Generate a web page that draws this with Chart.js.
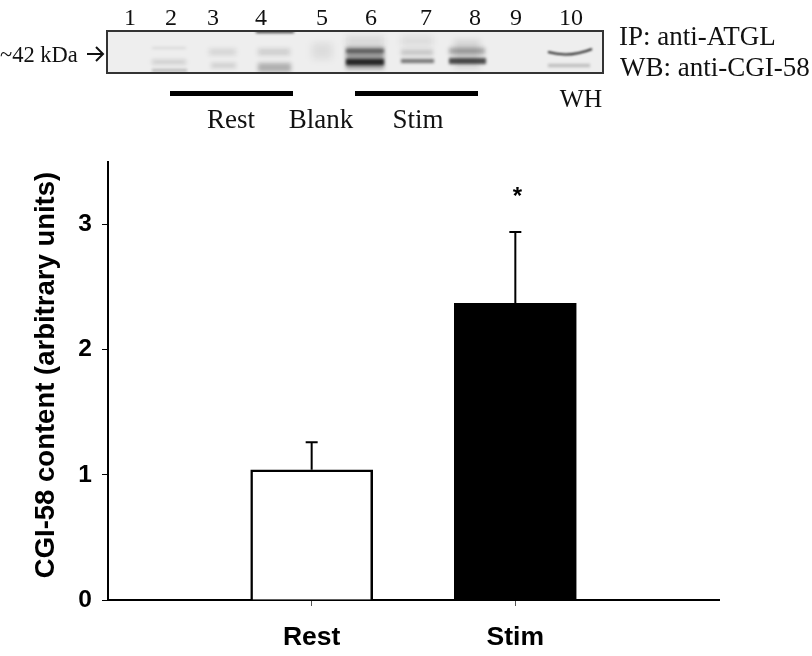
<!DOCTYPE html>
<html>
<head>
<meta charset="utf-8">
<style>
  html, body { margin: 0; padding: 0; background: #fff; }
  #wrap { width: 812px; height: 656px; position: relative; }
</style>
<script src="https://cdn.jsdelivr.net/npm/chart.js@4/dist/chart.umd.min.js"></script>
</head>
<body>
<div id="wrap"><canvas id="chart" width="812" height="656"></canvas></div>
<script>
const categories = ['', 'Rest', 'Stim', '']
const contentValues = [null, 1.04, 2.37, null]
const errorValues = [null, 0.22, 0.57, null]
const significance = [null, null, '*', null]
const yTicks = [0, 1, 2, 3]

const laneLabels = ['1', '2', '3', '4', '5', '6', '7', '8', '9', '10']
const laneX = [130, 171, 213, 261, 322, 371, 426, 475, 516, 571]

const SERIF = '"Liberation Serif", serif'
const SANS = '"Liberation Sans", Arial, sans-serif'

// western blot strip, not data: x, y, w, h, darkness, blur
const blotBands = [
  [256, 30, 38, 3, 0.8, 1.5],
  [152, 47, 34, 2, 0.1, 1.5],
  [152, 60, 34, 4, 0.16, 2],
  [152, 69, 35, 3, 0.24, 1.5],
  [209, 49, 27, 6, 0.12, 2.5],
  [211, 63, 25, 5, 0.14, 2],
  [258, 49, 32, 6, 0.16, 2.5],
  [258, 63, 33, 9, 0.28, 2],
  [312, 43, 20, 16, 0.08, 3.5],
  [346, 36, 38, 10, 0.1, 3],
  [346, 47, 38, 22, 0.38, 2],
  [346, 49, 38, 4, 0.45, 1.8],
  [346, 59, 38, 6, 0.85, 1.8],
  [401, 36, 32, 10, 0.08, 3],
  [401, 50, 32, 5, 0.2, 2.2],
  [401, 59, 33, 4, 0.55, 1.6],
  [449, 48, 36, 6, 0.32, 2.2],
  [449, 58, 37, 6, 0.72, 1.8],
  [454, 40, 26, 28, 0.12, 3],
  [548, 64, 42, 3, 0.24, 1.8]
]

const figureParts = {
  id: 'figureParts',
  afterDraw(chart) {
    const ctx = chart.ctx
    const xs = chart.scales.x
    const ys = chart.scales.y

    // error bars, upper side only
    ctx.save()
    ctx.strokeStyle = '#000'
    ctx.lineWidth = 2
    contentValues.forEach((v, i) => {
      if (v === null) return
      const x = xs.getPixelForValue(i)
      const top = ys.getPixelForValue(v + errorValues[i])
      ctx.beginPath()
      ctx.moveTo(x, ys.getPixelForValue(v))
      ctx.lineTo(x, top)
      ctx.moveTo(x - 6, top)
      ctx.lineTo(x + 6, top)
      ctx.stroke()
      if (significance[i]) {
        ctx.fillStyle = '#000'
        ctx.font = 'bold 24px ' + SANS
        ctx.textAlign = 'center'
        ctx.textBaseline = 'middle'
        ctx.fillText(significance[i], x + 2, top - 35)
      }
    })
    ctx.restore()

    // y axis title
    ctx.save()
    ctx.translate(46, 375)
    ctx.rotate(-Math.PI / 2)
    ctx.fillStyle = '#000'
    ctx.font = 'bold 27.5px ' + SANS
    ctx.textAlign = 'center'
    ctx.textBaseline = 'middle'
    ctx.fillText('CGI-58 content (arbitrary units)', 0, 0)
    ctx.restore()

    // blot
    ctx.save()
    ctx.fillStyle = '#eeeeee'
    ctx.fillRect(107, 31, 496, 42)
    ctx.beginPath()
    ctx.rect(107, 31, 496, 42)
    ctx.clip()
    blotBands.forEach(b => {
      ctx.filter = 'blur(' + b[5] + 'px)'
      ctx.fillStyle = 'rgba(15,15,15,' + b[4] + ')'
      ctx.fillRect(b[0], b[1], b[2], b[3])
    })
    ctx.filter = 'blur(0.8px)'
    ctx.strokeStyle = 'rgba(20,20,20,0.9)'
    ctx.lineWidth = 2
    ctx.beginPath()
    ctx.moveTo(548, 52)
    ctx.quadraticCurveTo(570, 58, 592, 49)
    ctx.stroke()
    ctx.restore()
    ctx.save()
    ctx.strokeStyle = '#333'
    ctx.lineWidth = 2
    ctx.strokeRect(107, 31, 496, 42)

    // arrow
    ctx.strokeStyle = '#111'
    ctx.lineWidth = 2
    ctx.beginPath()
    ctx.moveTo(87, 54)
    ctx.lineTo(103, 54)
    ctx.moveTo(96, 47)
    ctx.lineTo(103, 54)
    ctx.lineTo(96, 61)
    ctx.stroke()

    // group bars under the blot
    ctx.fillStyle = '#000'
    ctx.fillRect(170, 91, 123, 5)
    ctx.fillRect(355, 91, 123, 5)

    // blot text
    ctx.fillStyle = '#111'
    ctx.textBaseline = 'alphabetic'
    ctx.textAlign = 'center'
    ctx.font = '24px ' + SERIF
    laneLabels.forEach((t, i) => ctx.fillText(t, laneX[i], 25))
    ctx.font = '27px ' + SERIF
    ctx.fillText('Rest', 231, 128)
    ctx.fillText('Blank', 321, 128)
    ctx.fillText('Stim', 418, 128)
    ctx.font = '25.5px ' + SERIF
    ctx.fillText('WH', 581, 107)
    ctx.font = '27px ' + SERIF
    ctx.textAlign = 'left'
    ctx.fillText('IP: anti-ATGL', 619, 45)
    ctx.fillText('WB: anti-CGI-58', 620, 76)
    ctx.font = '22.5px ' + SERIF
    ctx.fillText('~42 kDa', 0, 62)
    ctx.restore()
  }
}

new Chart(document.getElementById('chart'), {
  type: 'bar',
  data: {
    labels: categories,
    datasets: [{
      data: contentValues,
      backgroundColor: ['#fff', '#fff', '#000', '#000'],
      borderColor: '#000',
      borderWidth: 2.5,
      barThickness: 122
    }]
  },
  options: {
    responsive: false,
    animation: false,
    layout: { padding: { top: 162, right: 93 } },
    plugins: { legend: { display: false }, tooltip: { enabled: false } },
    scales: {
      x: {
        offset: false,
        border: { color: '#000', width: 2 },
        grid: {
          offset: false,
          drawOnChartArea: false,
          tickLength: 6,
          tickColor: ctx => (categories[ctx.index] ? '#555' : 'transparent')
        },
        ticks: {
          color: '#000',
          padding: 16,
          maxRotation: 0,
          font: { family: SANS, size: 26.5, weight: 'bold' }
        },
        afterFit(scale) { scale.height = 56 }
      },
      y: {
        min: 0,
        max: 3.5,
        border: { color: '#000', width: 2 },
        grid: { drawOnChartArea: false, tickLength: 6, tickColor: '#000' },
        afterBuildTicks(scale) { scale.ticks = yTicks.map(v => ({ value: v })) },
        ticks: {
          color: '#000',
          padding: 10,
          font: { family: SANS, size: 24.5, weight: 'bold' }
        },
        afterFit(scale) { scale.width = 108 }
      }
    }
  },
  plugins: [figureParts]
})
</script>
</body>
</html>
